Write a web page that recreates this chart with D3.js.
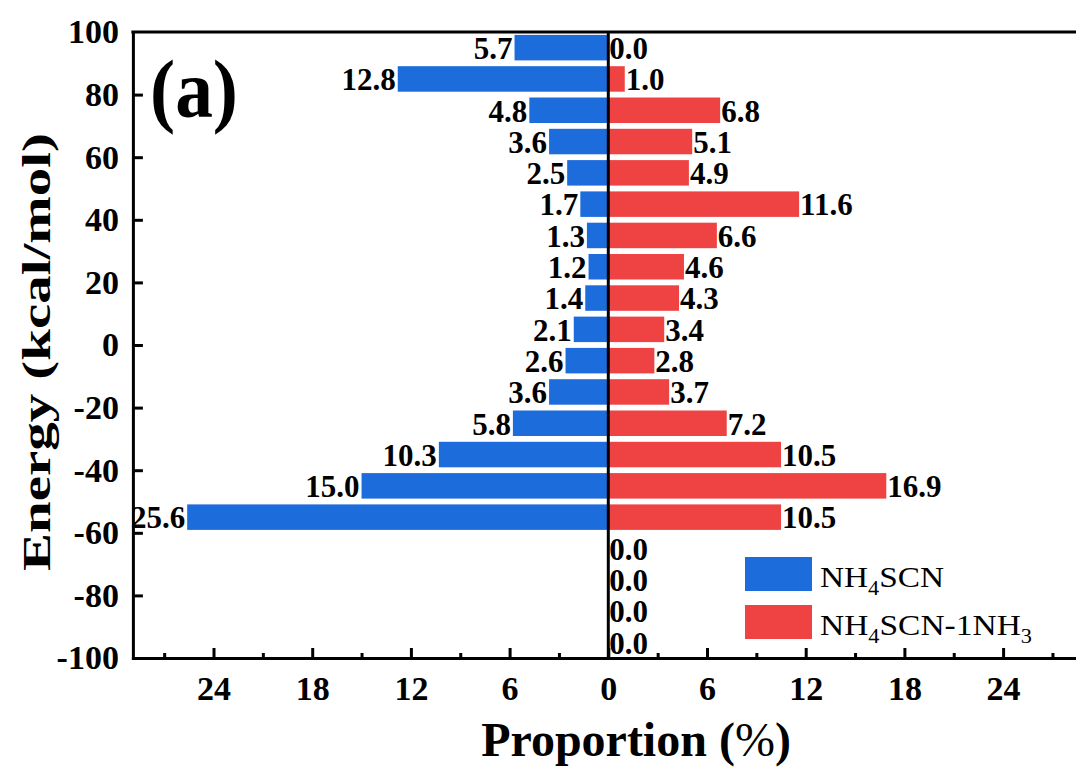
<!DOCTYPE html>
<html>
<head>
<meta charset="utf-8">
<script src="https://cdn.jsdelivr.net/npm/d3@7"></script>
<style>
  html, body { margin: 0; padding: 0; background: #fff; }
  svg { display: block; }
  text { font-family: "Liberation Serif", "Times New Roman", serif; fill: #000; }
</style>
</head>
<body>
<svg id="chart" width="1076" height="767"></svg>
<script>
// Energy bins (kcal/mol, bin centres), top to bottom
const energies = [95, 85, 75, 65, 55, 45, 35, 25, 15, 5, -5, -15, -25, -35, -45, -55, -65, -75, -85, -95];
// Proportion (%) of each bin
const nh4scn    = [5.7, 12.8, 4.8, 3.6, 2.5, 1.7, 1.3, 1.2, 1.4, 2.1, 2.6, 3.6, 5.8, 10.3, 15.0, 25.6, 0, 0, 0, 0];
const nh4scnNh3 = [0.0, 1.0, 6.8, 5.1, 4.9, 11.6, 6.6, 4.6, 4.3, 3.4, 2.8, 3.7, 7.2, 10.5, 16.9, 10.5, 0.0, 0.0, 0.0, 0.0];
const binWidth = 10;

const xMajorTicks = [-24, -18, -12, -6, 0, 6, 12, 18, 24];
const xMinorTicks = [-27, -21, -15, -9, -3, 3, 9, 15, 21, 27];
const yTicks = [-100, -80, -60, -40, -20, 0, 20, 40, 60, 80, 100];

const colorA = "#1d6cdb";
const colorB = "#ef4343";

const svg = d3.select("#chart");

const x = d3.scaleLinear().domain([-28.9, 28.9]).range([132.9, 1083.7]);
const y = d3.scaleLinear().domain([-100, 100]).range([658, 32]);

const inset = 2.9;
const rows = energies.map((e, i) => ({ e, a: nh4scn[i], b: nh4scnNh3[i] }));

// Bars: NH4SCN to the left of zero, NH4SCN-1NH3 to the right
const bars = svg.append("g");
bars.selectAll("rect.a").data(rows).join("rect")
  .attr("class", "a")
  .attr("x", d => x(-d.a))
  .attr("y", d => y(d.e + binWidth / 2) + inset)
  .attr("width", d => x(0) - x(-d.a))
  .attr("height", d => y(d.e - binWidth / 2) - y(d.e + binWidth / 2) - 2 * inset)
  .attr("fill", colorA);

bars.selectAll("rect.b").data(rows).join("rect")
  .attr("class", "b")
  .attr("x", x(0))
  .attr("y", d => y(d.e + binWidth / 2) + inset)
  .attr("width", d => x(d.b) - x(0))
  .attr("height", d => y(d.e - binWidth / 2) - y(d.e + binWidth / 2) - 2 * inset)
  .attr("fill", colorB);

// Value labels
const labels = svg.append("g")
  .attr("font-size", 31).attr("font-weight", "bold");
labels.selectAll("text.a").data(rows.filter(d => d.a > 0)).join("text")
  .attr("class", "a")
  .attr("x", d => x(-d.a) - 2)
  .attr("y", d => y(d.e - binWidth / 2) - inset - 1.5)
  .attr("text-anchor", "end")
  .text(d => d.a.toFixed(1));
labels.selectAll("text.b").data(rows).join("text")
  .attr("class", "b")
  .attr("x", d => x(d.b) + 1)
  .attr("y", d => y(d.e - binWidth / 2) - inset - 1.5)
  .attr("text-anchor", "start")
  .text(d => d.b.toFixed(1));

// Axes
const xAxis = svg.append("g")
  .attr("transform", `translate(0,${y(-100)})`)
  .call(d3.axisBottom(x).tickValues(xMajorTicks).tickSizeInner(-10).tickSizeOuter(0)
        .tickPadding(18).tickFormat(d => String(Math.abs(d))));
svg.append("g")
  .attr("transform", `translate(0,${y(-100)})`)
  .call(d3.axisBottom(x).tickValues(xMinorTicks).tickSizeInner(-5).tickSizeOuter(0).tickFormat(""))
  .call(g => g.select(".domain").remove())
  .selectAll("line").attr("stroke", "#000").attr("stroke-width", 3);

const yAxis = svg.append("g")
  .attr("transform", `translate(${x(-28.9)},0)`)
  .call(d3.axisLeft(y).tickValues(yTicks).tickSizeInner(-10).tickSizeOuter(0)
        .tickPadding(14).tickFormat(d => String(d)));

[xAxis, yAxis].forEach(g => {
  g.select(".domain").attr("stroke", "#000").attr("stroke-width", 3).attr("stroke-linecap", "square");
  g.selectAll(".tick line").attr("stroke", "#000").attr("stroke-width", 3);
  g.selectAll(".tick text")
    .attr("font-family", "Liberation Serif, Times New Roman, serif")
    .attr("font-size", 34).attr("font-weight", "bold").attr("fill", "#000");
});
yAxis.selectAll(".tick").filter(d => d === 100).select("line").remove();

// Top frame line and zero line
svg.append("line")
  .attr("x1", x(-28.9)).attr("x2", x(28.9))
  .attr("y1", y(100)).attr("y2", y(100))
  .attr("stroke", "#000").attr("stroke-width", 3).attr("stroke-linecap", "square");
svg.append("line")
  .attr("x1", x(0)).attr("x2", x(0))
  .attr("y1", y(100)).attr("y2", y(-100))
  .attr("stroke", "#000").attr("stroke-width", 3);

// Axis titles
const xt = svg.append("text")
  .attr("x", 636).attr("y", 756)
  .attr("text-anchor", "middle")
  .attr("font-size", 48).attr("font-weight", "bold");
xt.append("tspan").text("Proportion (");
xt.append("tspan").attr("font-weight", "normal").text("%");
xt.append("tspan").text(")");

svg.append("text")
  .attr("transform", "translate(50,352) rotate(-90)")
  .attr("text-anchor", "middle")
  .attr("font-size", 40).attr("font-weight", "bold")
  .attr("textLength", 438).attr("lengthAdjust", "spacingAndGlyphs")
  .text("Energy (kcal/mol)");

// Panel letter
svg.append("text")
  .attr("x", 150).attr("y", 117)
  .attr("font-size", 82).attr("font-weight", "bold")
  .attr("textLength", 88).attr("lengthAdjust", "spacingAndGlyphs")
  .text("(a)");

// Legend
const legend = svg.append("g");
const legendItems = [
  { color: colorA, parts: [["NH", 0], ["4", 1], ["SCN", 0]], len: 124 },
  { color: colorB, parts: [["NH", 0], ["4", 1], ["SCN-1NH", 0], ["3", 1]], len: 212 }
];
legendItems.forEach((it, i) => {
  const top = 557 + i * 48;
  legend.append("rect")
    .attr("x", 745).attr("y", top).attr("width", 67).attr("height", 34)
    .attr("fill", it.color);
  const t = legend.append("text")
    .attr("x", 820).attr("y", top + 30)
    .attr("font-size", 30)
    .attr("textLength", it.len).attr("lengthAdjust", "spacingAndGlyphs");
  it.parts.forEach(([s, sub]) => {
    const ts = t.append("tspan").text(s);
    if (sub) ts.attr("font-size", 20).attr("dy", 8);
    else ts.attr("dy", t.selectAll("tspan").size() > 1 ? -8 : 0);
  });
});
</script>
</body>
</html>
